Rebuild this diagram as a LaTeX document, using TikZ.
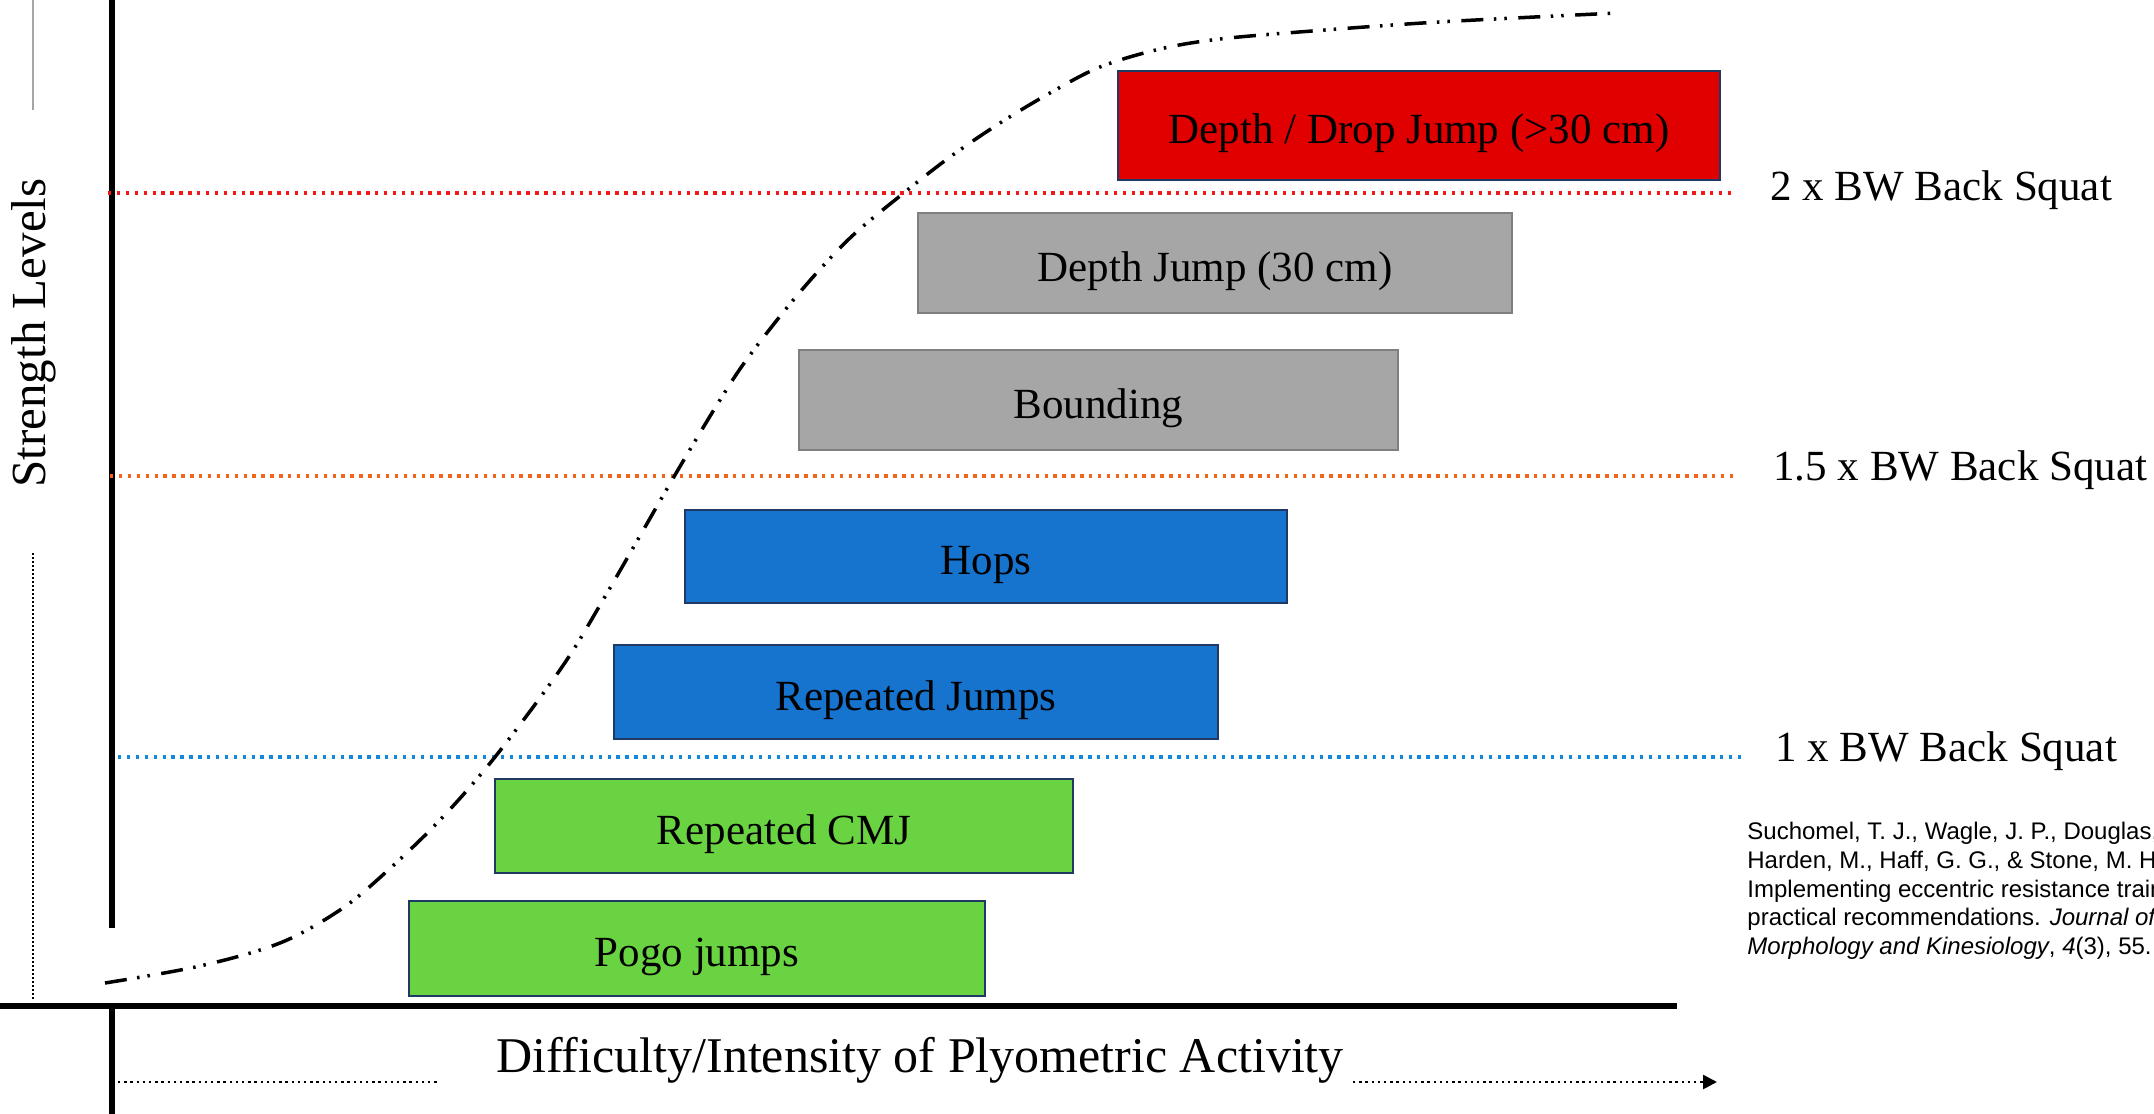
\documentclass[tikz,border=0pt]{standalone}
\usepackage{fontspec}
\setmainfont{Liberation Serif}
\newfontfamily\citefont{Liberation Sans}
\usetikzlibrary{arrows.meta}
\definecolor{boxred}{HTML}{E00000}
\definecolor{boxgray}{HTML}{A6A6A6}
\definecolor{boxblue}{HTML}{1673CE}
\definecolor{boxgreen}{HTML}{6AD341}
\definecolor{boxedge}{HTML}{1F3864}
\definecolor{edgegray}{HTML}{7F7F7F}
\definecolor{lvlred}{HTML}{F01818}
\definecolor{lvlorange}{HTML}{F0661A}
\definecolor{lvlblue}{HTML}{1488DB}
\begin{document}
\begin{tikzpicture}[x=0.5pt,y=-0.5pt,
  actbox/.style={draw=boxedge, line width=1.1pt, inner sep=0pt, text height=20pt, text depth=2pt, font=\fontsize{21.5}{25}\selectfont},
  lvl/.style={line width=1.7pt, dash pattern=on 1.7pt off 2.75pt},
  lvllabel/.style={anchor=base west, inner sep=0pt, font=\fontsize{21.5}{25}\selectfont},
  axisline/.style={line width=2.6pt},
  trend/.style={line width=1.75pt, dash pattern=on 11pt off 5.25pt on 1.25pt off 4pt on 1.25pt off 5.75pt},
  finedots/.style={line width=1.3pt, dash pattern=on 1.2pt off 1.9pt},
]
\useasboundingbox (0,0) rectangle (2154,1114);
\fill[white] (0,0) rectangle (2154,1114);
\clip (0,0) rectangle (2154,1114);

% axes
\coordinate (ytop) at (112,0);
\coordinate (ybot) at (112,928);
\coordinate (xl) at (0,1006);
\coordinate (xr) at (1677,1006);
\coordinate (yl0) at (112,1006);
\coordinate (yl1) at (112,1114);
\draw[axisline] (ytop) -- (ybot);
\draw[axisline] (xl) -- (xr);
\draw[axisline] (yl0) -- (yl1);

% left side markers
\coordinate (g0) at (33,0);
\coordinate (g1) at (33,110);
\coordinate (d0) at (33,553);
\coordinate (d1) at (33,999);
\draw[gray!70, line width=1pt] (g0) -- (g1);
\draw[finedots, line width=1.3pt, dash pattern=on 1pt off 1pt] (d0) -- (d1);
\node[rotate=90, font=\fontsize{24.5}{28}\selectfont, inner sep=0pt] (ylabel) at (34,333) {Strength Levels};

% level lines
\node[lvllabel] (lbl2) at (1770,200) {2 x BW Back Squat};
\node[lvllabel] (lbl15) at (1773,480) {1.5 x BW Back Squat};
\node[lvllabel] (lbl1) at (1775,761) {1 x BW Back Squat};
\coordinate (r0) at (108,193);
\coordinate (o0) at (110,476);
\coordinate (b0) at (118,757);
\draw[lvl, draw=lvlred, shorten >=18pt] (r0) -- (r0 -| lbl2.west);
\draw[lvl, draw=lvlorange, shorten >=19pt] (o0) -- (o0 -| lbl15.west);
\draw[lvl, draw=lvlblue, shorten >=15pt] (b0) -- (b0 -| lbl1.west);

% activity boxes
\node[actbox, fill=boxred, minimum width=301pt, minimum height=54.5pt] (dropjump) at (1419,125.5) {Depth / Drop Jump (>30 cm)};
\node[actbox, fill=boxgray, draw=edgegray, minimum width=297pt, minimum height=50pt] (depthjump) at (1215,263) {Depth Jump (30 cm)};
\node[actbox, fill=boxgray, draw=edgegray, minimum width=299.5pt, minimum height=50pt] (bounding) at (1098.5,400) {Bounding};
\node[actbox, fill=boxblue, minimum width=301pt, minimum height=46.5pt] (hops) at (986,556.5) {Hops};
\node[actbox, fill=boxblue, minimum width=302pt, minimum height=47pt] (repjumps) at (916,692) {Repeated Jumps};
\node[actbox, fill=boxgreen, minimum width=289pt, minimum height=47pt] (repcmj) at (784,826) {Repeated CMJ};
\node[actbox, fill=boxgreen, minimum width=288pt, minimum height=47.5pt] (pogo) at (697,948.5) {Pogo jumps};

% trend curve
\draw[trend] plot[smooth, tension=0.55] coordinates {(105,983) (200,966) (280,943) (340,910) (385,873) (440,820) (495,757) (562,667) (603,600) (675,475) (720,400) (750,355) (800,292) (850,238) (905,192) (950,157) (1000,123) (1050,93) (1100,67) (1160,49) (1220,39) (1312,31) (1439,22) (1617,13)};

% x label
\node[anchor=base, inner sep=0pt, font=\fontsize{25}{29}\selectfont] (xlabel) at (920,1072) {Difficulty/Intensity of Plyometric Activity};
\coordinate (dl0) at (118,1082);
\coordinate (dl1) at (440,1082);
\coordinate (ar0) at (1353,1082);
\coordinate (ar1) at (1717,1082);
\draw[finedots] (dl0) -- (dl1);
\draw[finedots, -{Triangle[length=7pt,width=7pt]}] (ar0) -- (ar1);

% citation
\node[anchor=north west, inner sep=0pt, align=left, font=\citefont\fontsize{12}{14.35}\selectfont] (cite) at (1747,822)
{Suchomel, T. J., Wagle, J. P., Douglas, J., Taber, C. B.,\\
Harden, M., Haff, G. G., \& Stone, M. H. (2019).\\
Implementing eccentric resistance training\\
practical recommendations. \textit{Journal of Functional}\\
\textit{Morphology and Kinesiology}, \textit{4}(3), 55.};
\end{tikzpicture}
\end{document}
